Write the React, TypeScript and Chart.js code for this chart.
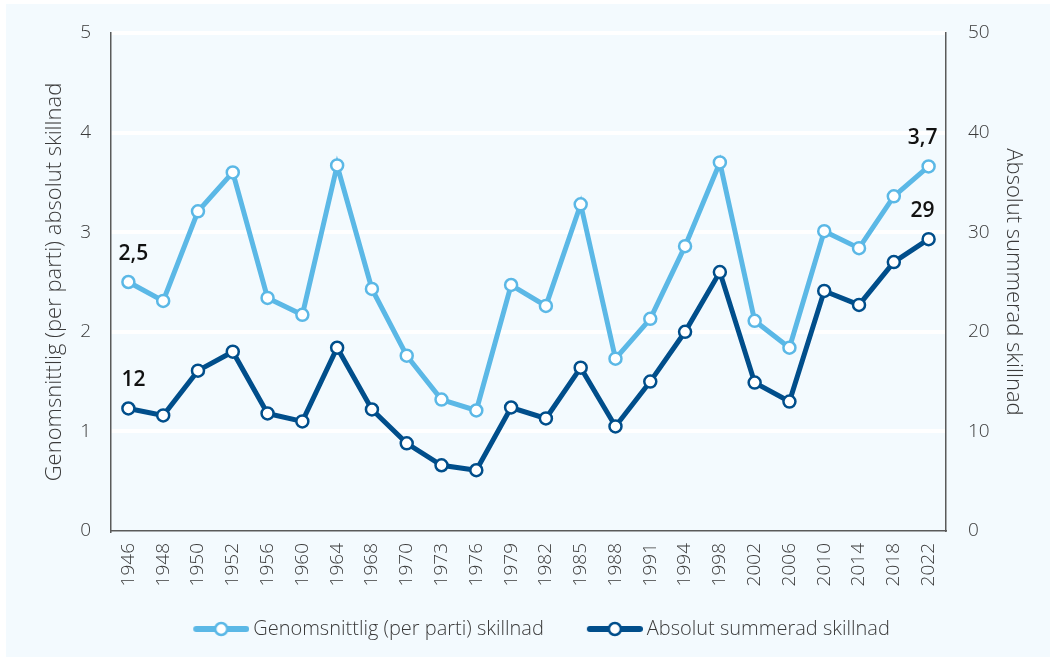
import React, { useEffect, useRef } from "react";
import { Chart, registerables } from "chart.js";

Chart.register(...registerables);

const years = [
  "1946", "1948", "1950", "1952", "1956", "1960", "1964", "1968", "1970", "1973", "1976", "1979",
  "1982", "1985", "1988", "1991", "1994", "1998", "2002", "2006", "2010", "2014", "2018", "2022",
];

const avgDiff = [
  2.5, 2.31, 3.21, 3.6, 2.34, 2.17, 3.67, 2.43, 1.76, 1.32, 1.21, 2.47,
  2.26, 3.28, 1.73, 2.13, 2.86, 3.7, 2.11, 1.84, 3.01, 2.84, 3.36, 3.66,
];

const sumDiff = [
  12.3, 11.6, 16.1, 18.0, 11.8, 11.0, 18.4, 12.2, 8.8, 6.6, 6.1, 12.4,
  11.3, 16.4, 10.5, 15.0, 20.0, 26.0, 14.9, 13.0, 24.1, 22.7, 27.0, 29.3,
];

const leftTitle = "Genomsnittlig (per parti) absolut skillnad";
const rightTitle = "Absolut summerad skillnad";
const avgLabel = "Genomsnittlig (per parti) skillnad";
const sumLabel = "Absolut summerad skillnad";

const LIGHT = "#5bb8e6";
const DARK = "#004e8b";
const TEXT = "#3a3a3a";
const FONT = "'Open Sans', sans-serif";

function makeMarker(color: string) {
  const c = document.createElement("canvas");
  c.width = 60;
  c.height = 18;
  const ctx = c.getContext("2d")!;
  ctx.strokeStyle = color;
  ctx.lineWidth = 6;
  ctx.lineCap = "round";
  ctx.beginPath();
  ctx.moveTo(7, 9);
  ctx.lineTo(57, 9);
  ctx.stroke();
  ctx.beginPath();
  ctx.arc(32, 9, 6, 0, Math.PI * 2);
  ctx.fillStyle = "#ffffff";
  ctx.fill();
  ctx.lineWidth = 2.5;
  ctx.stroke();
  return c;
}

const endLabels = {
  id: "endLabels",
  afterLayout(chart: any) {
    // let the rotated year labels extend below the (shortened) x-axis box without clipping
    const x = chart.scales.x;
    if (x) x.bottom = chart.height;
  },
  afterDatasetsDraw(chart: any) {
    const ctx = chart.ctx;
    ctx.save();
    ctx.font = "600 21px " + FONT;
    ctx.fillStyle = "#111111";
    ctx.textAlign = "center";
    ctx.textBaseline = "middle";
    chart.data.datasets.forEach((ds: any, di: number) => {
      const meta = chart.getDatasetMeta(di);
      const n = ds.data.length;
      [0, n - 1].forEach((i) => {
        const el = meta.data[i];
        const v = ds.data[i];
        const text = di === 0 ? v.toFixed(1).replace(".", ",") : String(Math.round(v));
        ctx.fillText(text, el.x + (i === 0 ? 5 : -6), el.y - 28);
      });
    });
    ctx.restore();
  },
};

export default function App() {
  const ref = useRef<HTMLCanvasElement | null>(null);

  useEffect(() => {
    document.body.style.margin = "0";
    const canvas = ref.current;
    if (!canvas) return;
    const chart = new Chart(canvas, {
      type: "line",
      data: {
        labels: years,
        datasets: [
          {
            label: avgLabel,
            data: avgDiff,
            yAxisID: "y",
            borderColor: LIGHT,
            backgroundColor: "#ffffff",
            borderWidth: 5,
            pointRadius: 6,
            pointBorderWidth: 2.5,
            pointBorderColor: LIGHT,
            pointBackgroundColor: "#ffffff",
            tension: 0,
          } as any,
          {
            label: sumLabel,
            data: sumDiff,
            yAxisID: "y1",
            borderColor: DARK,
            backgroundColor: "#ffffff",
            borderWidth: 5,
            pointRadius: 6,
            pointBorderWidth: 2.5,
            pointBorderColor: DARK,
            pointBackgroundColor: "#ffffff",
            tension: 0,
          } as any,
        ],
      },
      options: {
        animation: false,
        responsive: false,
        maintainAspectRatio: false,
        layout: { padding: { top: 29, left: 29, right: 0, bottom: 8 } },
        plugins: {
          tooltip: { enabled: false },
          legend: {
            position: "bottom",
            labels: {
              usePointStyle: true,
              pointStyleWidth: 48,
              padding: 45,
              color: TEXT,
              font: { family: FONT, size: 20, weight: "300" as any },
              generateLabels: (ch: any) =>
                ch.data.datasets.map((ds: any, i: number) => ({
                  text: ds.label,
                  pointStyle: makeMarker(i === 0 ? LIGHT : DARK),
                  fillStyle: "#fff",
                  strokeStyle: i === 0 ? LIGHT : DARK,
                  lineWidth: 0,
                  hidden: false,
                  datasetIndex: i,
                  fontColor: TEXT,
                })),
            },
          },
        },
        scales: {
          x: {
            offset: true,
            afterFit: (s: any) => {
              s.height = 43;
            },
            grid: { display: false, drawTicks: false },
            border: { display: true, color: "#5a5a5a", width: 1.5 },
            ticks: {
              autoSkip: false,
              minRotation: 90,
              maxRotation: 90,
              padding: 12,
              color: TEXT,
              font: { family: FONT, size: 19, weight: "300" as any },
            },
          },
          y: {
            position: "left",
            min: 0,
            max: 5,
            afterFit: (s: any) => {
              s.width = 76;
              s.paddingTop = 0;
              s.paddingBottom = 0;
            },
            ticks: {
              stepSize: 1,
              padding: 20,
              color: TEXT,
              font: { family: FONT, size: 19, weight: "300" as any },
            },
            grid: {
              color: (c: any) => (c.tick && c.tick.value === 0 ? "rgba(0,0,0,0)" : "#ffffff"),
              lineWidth: 4,
              drawTicks: false,
            },
            border: { display: true, color: "#5a5a5a", width: 1.5 },
            title: {
              display: true,
              text: leftTitle,
              color: TEXT,
              font: { family: FONT, size: 22, weight: "300" as any },
              padding: { top: 7, bottom: 0 },
            },
          },
          y1: {
            position: "right",
            min: 0,
            max: 50,
            afterFit: (s: any) => {
              s.width = 104;
              s.paddingTop = 0;
              s.paddingBottom = 0;
            },
            ticks: {
              stepSize: 10,
              padding: 22,
              color: TEXT,
              font: { family: FONT, size: 19, weight: "300" as any },
            },
            grid: { display: false, drawTicks: false },
            border: { display: true, color: "#5a5a5a", width: 1.5 },
            title: {
              display: true,
              text: rightTitle,
              color: TEXT,
              font: { family: FONT, size: 22, weight: "300" as any },
              padding: { top: 24, bottom: 0 },
            },
          },
        },
      },
      plugins: [endLabels],
    } as any);
    return () => chart.destroy();
  }, []);

  return (
    <div style={{ position: "relative", width: 1055, height: 661, background: "#ffffff" }}>
      <div
        style={{
          position: "absolute",
          left: 6,
          top: 4,
          width: 1044,
          height: 653,
          background: "#f3fafe",
        }}
      >
        <canvas ref={ref} width={1044} height={653} style={{ display: "block" }} />
      </div>
    </div>
  );
}
